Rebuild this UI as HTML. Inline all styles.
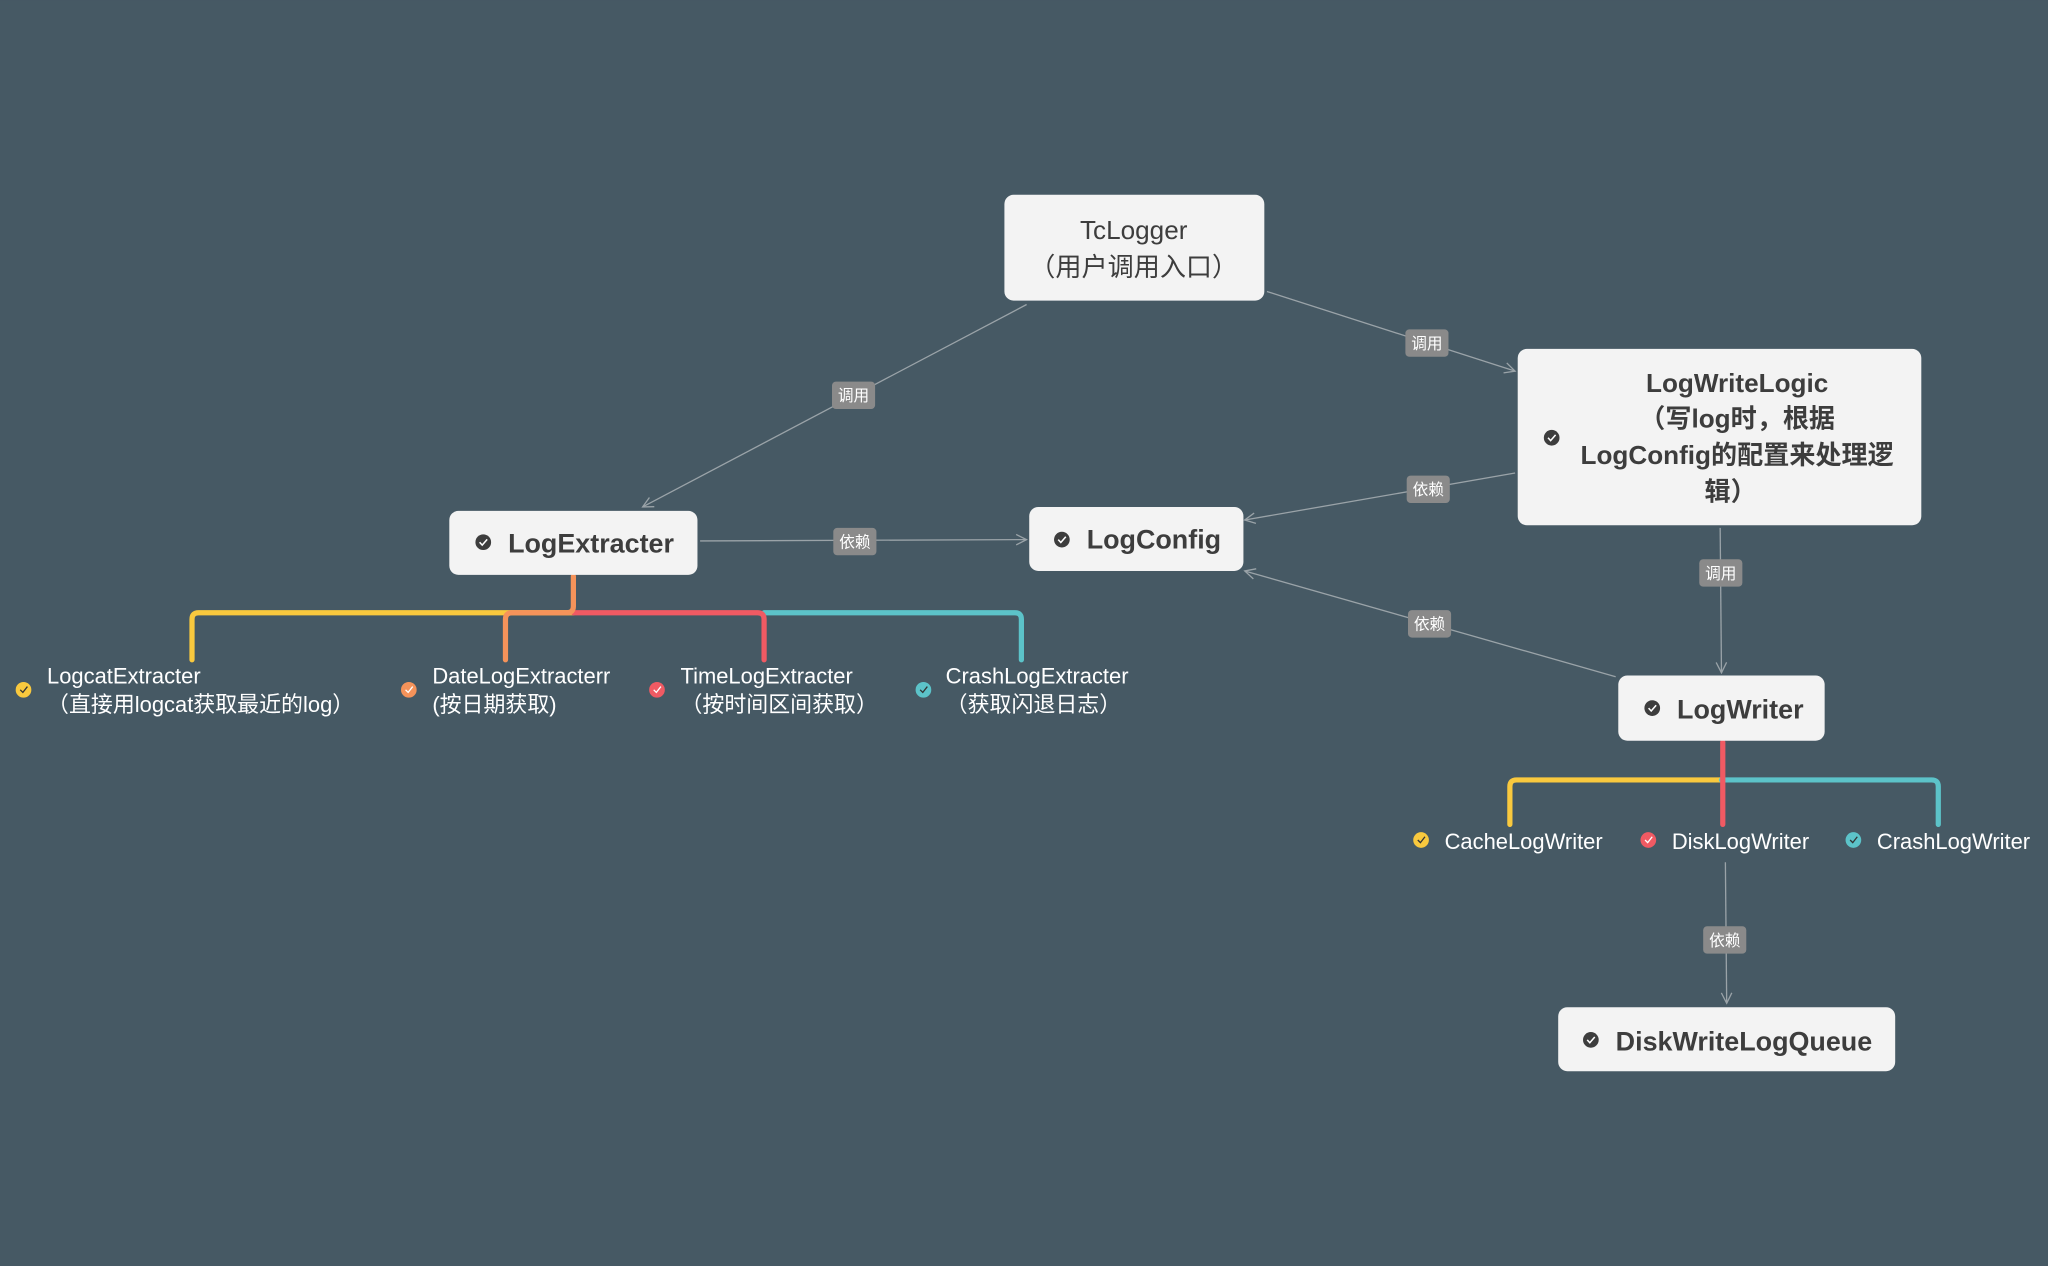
<!DOCTYPE html>
<html><head><meta charset="utf-8"><style>
html,body{margin:0;padding:0;background:#465964;}
svg{display:block;}
text{font-family:"Liberation Sans","Noto Sans CJK SC",sans-serif;}
</style></head><body>
<svg width="2048" height="1266" viewBox="0 0 1568 969" xmlns="http://www.w3.org/2000/svg">
<defs>
<marker id="ar" markerWidth="10" markerHeight="10" refX="9" refY="5" orient="auto" markerUnits="userSpaceOnUse">
<path d="M1,1 L9,5 L1,9" fill="none" stroke="#9aa3a8" stroke-width="1"/>
</marker>
<g id="ck"><circle r="6" fill="#3d3d3d"/><path d="M-2.8,0 L-0.8,2.2 L3,-2.2" fill="none" stroke="#fff" stroke-width="1.2"/></g>
</defs>
<rect width="1568" height="969" fill="#465964"/>
<g stroke="#9aa3a8" stroke-width="1" fill="none">
<line x1="786" y1="233" x2="492" y2="388" marker-end="url(#ar)"/>
<line x1="970" y1="223" x2="1160" y2="284" marker-end="url(#ar)"/>
<line x1="1160" y1="362" x2="953" y2="398" marker-end="url(#ar)"/>
<line x1="536" y1="414" x2="786" y2="413" marker-end="url(#ar)"/>
<line x1="1317" y1="404" x2="1318" y2="515" marker-end="url(#ar)"/>
<line x1="1237" y1="518" x2="953" y2="437" marker-end="url(#ar)"/>
<line x1="1321" y1="660" x2="1322" y2="768" marker-end="url(#ar)"/>
</g>
<g font-size="12" fill="#fff" text-anchor="middle">
<rect x="637" y="292" width="33" height="21" rx="3" fill="#8a8a8a"/><text x="653.5" y="307">调用</text>
<rect x="1076" y="252" width="33" height="21" rx="3" fill="#8a8a8a"/><text x="1092.5" y="267">调用</text>
<rect x="1077" y="364" width="33" height="21" rx="3" fill="#8a8a8a"/><text x="1093.5" y="379">依赖</text>
<rect x="638" y="404" width="33" height="21" rx="3" fill="#8a8a8a"/><text x="654.5" y="419">依赖</text>
<rect x="1301" y="428" width="33" height="21" rx="3" fill="#8a8a8a"/><text x="1317.5" y="443">调用</text>
<rect x="1078" y="467" width="33" height="21" rx="3" fill="#8a8a8a"/><text x="1094.5" y="482">依赖</text>
<rect x="1304" y="709" width="33" height="21" rx="3" fill="#8a8a8a"/><text x="1320.5" y="724">依赖</text>
</g>
<g fill="none" stroke-width="4" stroke-linecap="round" stroke-linejoin="round">
<path d="M439,469 L152,469 Q147,469 147,474 L147,505" stroke="#f9c93e"/>
<path d="M585,469 L777,469 Q782,469 782,474 L782,505" stroke="#5cc3c9"/>
<path d="M439,469 L580,469 Q585,469 585,474 L585,505" stroke="#f05a63"/>
<path d="M439,441 L439,464 Q439,469 434,469 L392,469 Q387,469 387,474 L387,505" stroke="#f5935a"/>
<path d="M1318,597 L1161,597 Q1156,597 1156,602 L1156,631" stroke="#f9c93e"/>
<path d="M1318,597 L1479,597 Q1484,597 1484,602 L1484,631" stroke="#5cc3c9"/>
<path d="M1319,568 L1319,631" stroke="#f05a63"/>
</g>
<g fill="#f3f3f3">
<rect x="769" y="149" width="199" height="81" rx="7"/>
<rect x="1162" y="267" width="309" height="135" rx="7"/>
<rect x="344" y="391" width="190" height="49" rx="7"/>
<rect x="788" y="388" width="164" height="49" rx="7"/>
<rect x="1239" y="517" width="158" height="50" rx="7"/>
<rect x="1193" y="771" width="258" height="49" rx="7"/>
</g>
<g fill="#3d3d3d" font-weight="bold">
<text x="868" y="183" font-size="20" text-anchor="middle" font-weight="normal">TcLogger</text>
<text x="868" y="211" font-size="20" text-anchor="middle" font-weight="normal">（用户调用入口）</text>
<text x="1330" y="300" font-size="20" text-anchor="middle">LogWriteLogic</text>
<text x="1330" y="327" font-size="20" text-anchor="middle">（写log时，根据</text>
<text x="1330" y="355" font-size="20" text-anchor="middle">LogConfig的配置来处理逻</text>
<text x="1325" y="383" font-size="20" text-anchor="middle">辑）</text>
<text x="389" y="423" font-size="20.6">LogExtracter</text>
<text x="832" y="420" font-size="20.6">LogConfig</text>
<text x="1284" y="550" font-size="20.6">LogWriter</text>
<text x="1237" y="804" font-size="20.6">DiskWriteLogQueue</text>
</g>
<use href="#ck" x="1188" y="335"/>
<use href="#ck" x="370" y="415"/>
<use href="#ck" x="813" y="413"/>
<use href="#ck" x="1265" y="542"/>
<use href="#ck" x="1218" y="796"/>
<g stroke="#333" stroke-width="1" fill="none">
<circle cx="18" cy="528" r="6" fill="#f9c93e" stroke="none"/>
<circle cx="313" cy="528" r="6" fill="#f5935a" stroke="none"/>
<circle cx="503" cy="528" r="6" fill="#f05a63" stroke="none"/>
<circle cx="707" cy="528" r="6" fill="#5cc3c9" stroke="none"/>
<circle cx="1088" cy="643" r="6" fill="#f9c93e" stroke="none"/>
<circle cx="1262" cy="643" r="6" fill="#f05a63" stroke="none"/>
<circle cx="1419" cy="643" r="6" fill="#5cc3c9" stroke="none"/>
<path d="M15.5,528 L17.5,530 L21,525.5"/><path d="M310.5,528 L312.5,530 L316,525.5" stroke="#fff"/>
<path d="M500.5,528 L502.5,530 L506,525.5" stroke="#fff"/><path d="M704.5,528 L706.5,530 L710,525.5"/>
<path d="M1085.5,643 L1087.5,645 L1091,640.5"/><path d="M1259.5,643 L1261.5,645 L1265,640.5" stroke="#fff"/>
<path d="M1416.5,643 L1418.5,645 L1422,640.5"/>
</g>
<g fill="#fff" font-size="16.8">
<text x="36" y="523">LogcatExtracter</text>
<text x="36" y="545">（直接用logcat获取最近的log）</text>
<text x="331" y="523">DateLogExtracterr</text>
<text x="331" y="545">(按日期获取)</text>
<text x="521" y="523">TimeLogExtracter</text>
<text x="521" y="545">（按时间区间获取）</text>
<text x="724" y="523">CrashLogExtracter</text>
<text x="724" y="545">（获取闪退日志）</text>
<text x="1106" y="650">CacheLogWriter</text>
<text x="1280" y="650">DiskLogWriter</text>
<text x="1437" y="650">CrashLogWriter</text>
</g>
</svg>
</body></html>
